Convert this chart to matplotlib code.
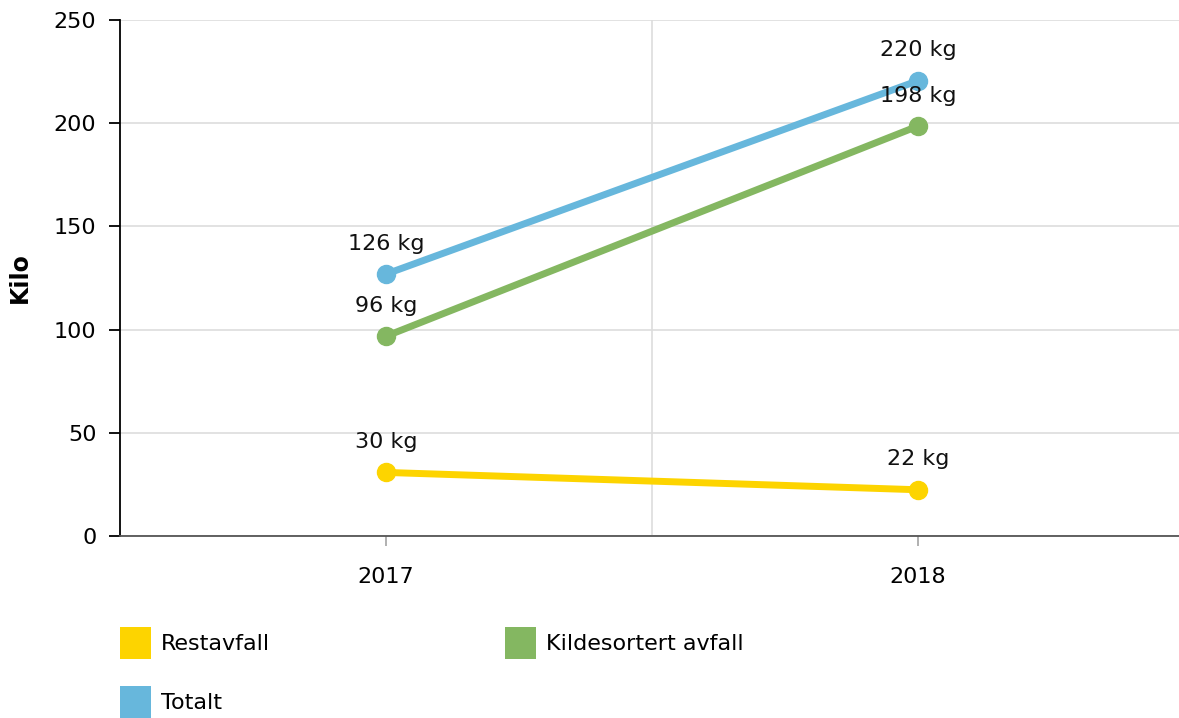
#!/usr/bin/env python
# coding: utf-8

# Waste per person, 2017 vs 2018

import matplotlib
matplotlib.use("Agg")
import matplotlib.pyplot as plt
from matplotlib.patches import Patch

years = ["2017", "2018"]
restavfall = [30.8, 22.4]
kildesortert = [96.8, 198.6]
totalt = [126.9, 220.6]

series_names = ["Restavfall", "Kildesortert avfall", "Totalt"]
series_values = [restavfall, kildesortert, totalt]
series_colors = ["#fdd400", "#84b761", "#67b7dc"]

matplotlib.rcParams.update({'font.size': 16, 'font.family': 'DejaVu Sans'})

fig = plt.figure(figsize=(11.79, 7.18), dpi=100)
ax = fig.add_axes([120/1179, 1 - 536/718, 1064/1179, 516/718])

x = list(range(len(years)))
for name, vals, col in zip(series_names, series_values, series_colors):
    ax.plot(x, vals, color=col, lw=5, marker='o', markersize=13,
            solid_capstyle='butt', zorder=3, label=name, clip_on=False)
    for xi, v in zip(x, vals):
        ax.annotate(f"{int(v)} kg", (xi, v), xytext=(0, 22), textcoords='offset points',
                    ha='center', va='center', fontsize=16, color='#111111', zorder=5)

ax.set_xlim(-0.5, len(years) - 0.5)
ax.set_ylim(0, 250)
ax.set_yticks(range(0, 251, 50))
ax.set_xticks(x)
ax.set_xticklabels(years)

# grid: horizontal at ticks, vertical between categories
ax.set_axisbelow(True)
ax.yaxis.grid(True, color='#dddddd', lw=1.2)
ax.axvline(0.5, color='#dddddd', lw=1.2, zorder=0)

for s in ['top', 'right']:
    ax.spines[s].set_visible(False)
ax.spines['left'].set_color('#000000')
ax.spines['left'].set_linewidth(1.3)
ax.spines['bottom'].set_color('#555555')
ax.spines['bottom'].set_linewidth(1.3)

ax.tick_params(axis='y', length=8, width=1.3, color='#000000', pad=9, labelsize=16)
ax.tick_params(axis='x', length=7, width=1.3, color='#aaaaaa', pad=15, labelsize=16)

ax.set_ylabel("Kilo", fontweight='bold', fontsize=17)
ax.yaxis.label.set_va('center')
ax.yaxis.set_label_coords(-100/1064, 0.5)

handles = [Patch(facecolor=series_colors[i], edgecolor='none', label=series_names[i]) for i in (0, 2, 1)]
fig.legend(handles=handles, ncol=2, loc='upper left', bbox_to_anchor=(120/1179, 1 - 627/718),
           frameon=False, fontsize=16, handlelength=1.4, handleheight=1.85,
           handletextpad=0.45, columnspacing=10.55, labelspacing=1.2, borderpad=0, borderaxespad=0)

plt.savefig("out.png", dpi=100)
print('Wrote out.png')
